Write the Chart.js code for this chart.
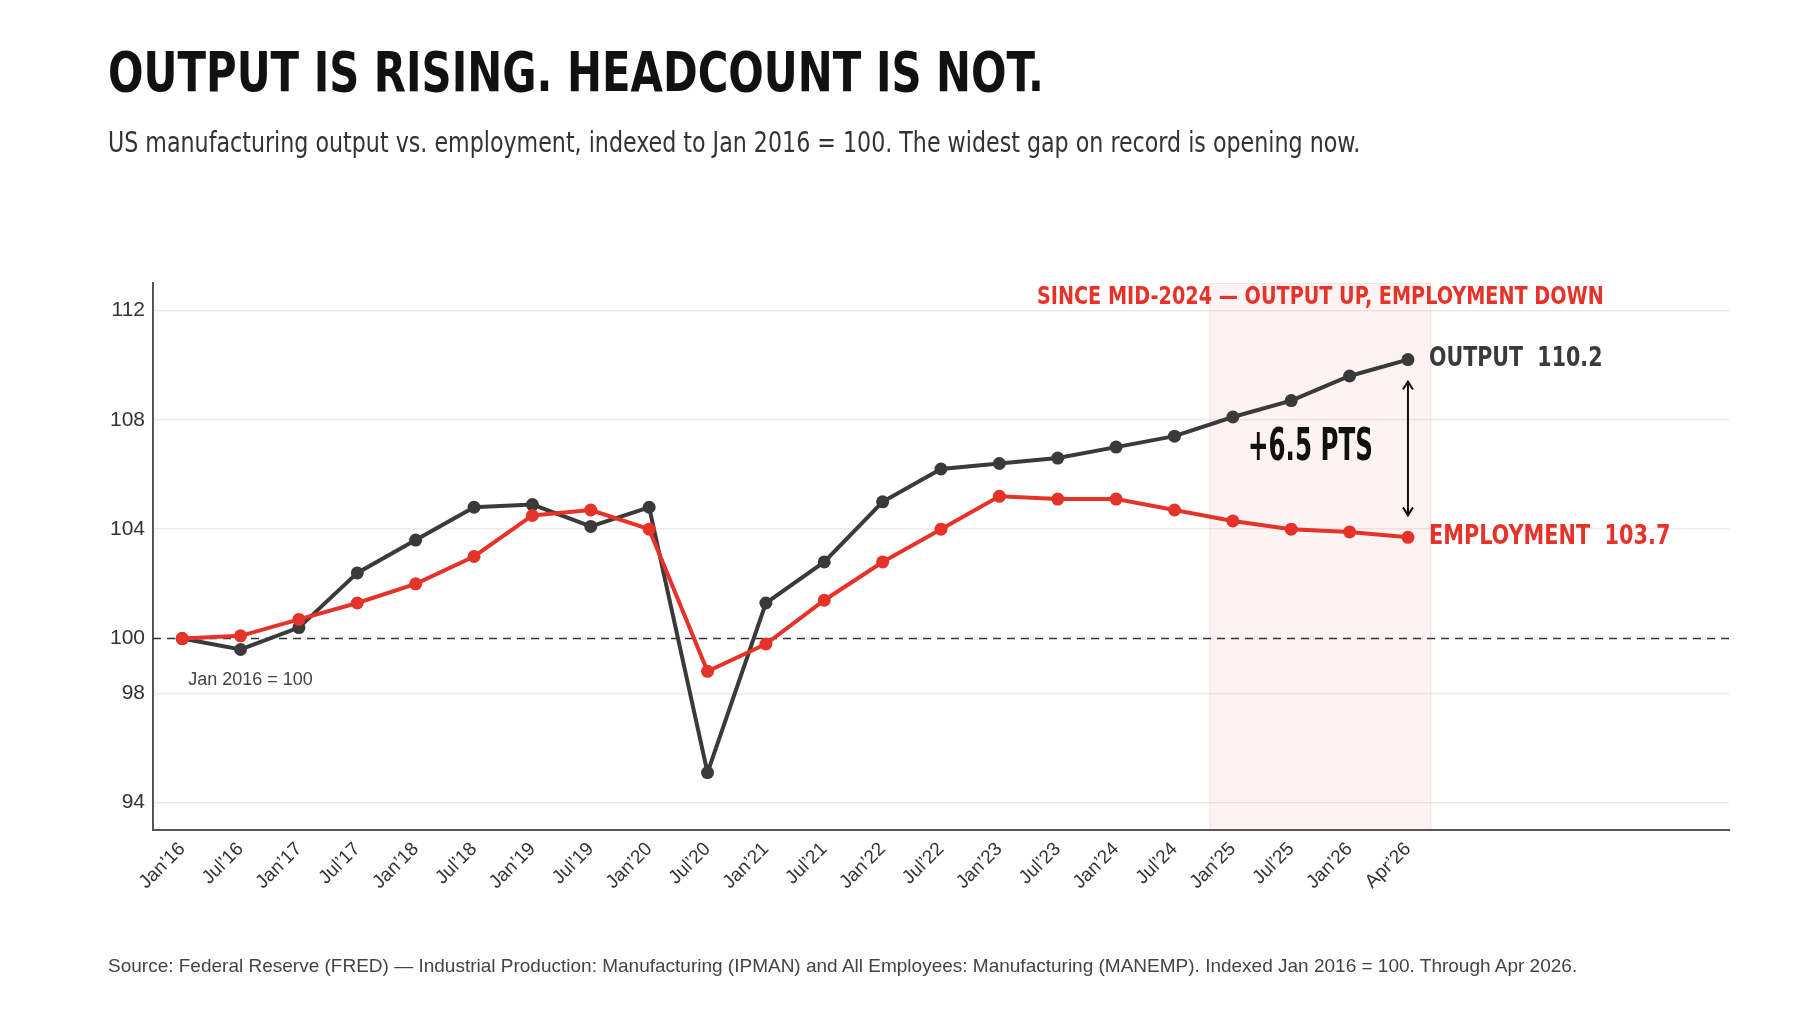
<!DOCTYPE html>
<html>
<head>
<meta charset="utf-8">
<title>Output is rising. Headcount is not.</title>
<script src="https://cdn.jsdelivr.net/npm/chart.js@4.4.1/dist/chart.umd.min.js"></script>
<style>
  html, body { margin: 0; padding: 0; background: #fff; }
  body { width: 1800px; height: 1012px; position: relative; overflow: hidden; }
  #chart { position: absolute; left: 0; top: 0; }
  .txt { position: absolute; left: 108px; margin: 0; white-space: nowrap; transform-origin: left top; }
  #title { top: 45px; font: bold 55px/1 "DejaVu Sans Condensed", "DejaVu Sans", sans-serif; color: #111; transform: scaleX(0.845); }
  #subtitle { top: 128px; font: 29px/1 "DejaVu Sans Condensed", "DejaVu Sans", sans-serif; color: #333; transform: scaleX(0.85); }
  #source { top: 956px; font: 19px/1 "Liberation Sans", sans-serif; color: #444; }
</style>
</head>
<body>
<canvas id="chart" width="1800" height="1012"></canvas>
<h1 class="txt" id="title">OUTPUT IS RISING. HEADCOUNT IS NOT.</h1>
<div class="txt" id="subtitle">US manufacturing output vs. employment, indexed to Jan 2016 = 100. The widest gap on record is opening now.</div>
<div class="txt" id="source">Source: Federal Reserve (FRED) — Industrial Production: Manufacturing (IPMAN) and All Employees: Manufacturing (MANEMP). Indexed Jan 2016 = 100. Through Apr 2026.</div>

<script>
// donnees
const categories = ["Jan’16", "Jul’16", "Jan’17", "Jul’17", "Jan’18", "Jul’18", "Jan’19", "Jul’19",
  "Jan’20", "Jul’20", "Jan’21", "Jul’21", "Jan’22", "Jul’22", "Jan’23", "Jul’23",
  "Jan’24", "Jul’24", "Jan’25", "Jul’25", "Jan’26", "Apr’26"];
const output = [100, 99.6, 100.4, 102.4, 103.6, 104.8, 104.9, 104.1, 104.8, 95.1, 101.3,
  102.8, 105.0, 106.2, 106.4, 106.6, 107.0, 107.4, 108.1, 108.7, 109.6, 110.2];
const employment = [100, 100.1, 100.7, 101.3, 102.0, 103.0, 104.5, 104.7, 104.0, 98.8, 99.8,
  101.4, 102.8, 104.0, 105.2, 105.1, 105.1, 104.7, 104.3, 104.0, 103.9, 103.7];
const yTicks = [94, 98, 100, 104, 108, 112];
const baseValue = 100;
const shadeFrom = 17.6;
const shadeTo = 21.4;
const shadeLabel = 'SINCE MID-2024 — OUTPUT UP, EMPLOYMENT DOWN';

const DARK = '#3a3a3a';
const RED = '#e5332a';
const COND = '"DejaVu Sans Condensed", "DejaVu Sans", sans-serif';

Chart.defaults.font.family = '"Liberation Sans", sans-serif';

const toPoints = arr => arr.map((v, i) => ({ x: i, y: v }));

// texte resserre horizontalement
function narrowText(ctx, text, x, y, sx) {
  ctx.save();
  ctx.translate(x, y);
  ctx.scale(sx, 1);
  ctx.fillText(text, 0, 0);
  ctx.restore();
}

const overlay = {
  id: 'overlay',
  beforeDatasetsDraw(chart) {
    const { ctx, chartArea: a, scales: { x, y } } = chart;
    const x0 = x.getPixelForValue(shadeFrom);
    const x1 = x.getPixelForValue(shadeTo);
    ctx.save();
    ctx.fillStyle = 'rgba(229, 51, 42, 0.06)';
    ctx.fillRect(x0, a.top, x1 - x0, a.bottom - a.top);
    ctx.strokeStyle = 'rgba(229, 51, 42, 0.10)';
    ctx.lineWidth = 1;
    ctx.strokeRect(x0 + 0.5, a.top + 0.5, x1 - x0 - 1, a.bottom - a.top);

    // ligne de base 100
    const yb = y.getPixelForValue(baseValue);
    ctx.setLineDash([8, 6]);
    ctx.strokeStyle = '#333';
    ctx.lineWidth = 1.6;
    ctx.beginPath();
    ctx.moveTo(a.left, yb);
    ctx.lineTo(a.right, yb);
    ctx.stroke();
    ctx.restore();
  },
  afterDatasetsDraw(chart) {
    const { ctx, chartArea: a, scales: { x, y } } = chart;
    const last = output.length - 1;
    const xl = x.getPixelForValue(last);
    const yo = y.getPixelForValue(output[last]);
    const ye = y.getPixelForValue(employment[last]);
    const yb = y.getPixelForValue(baseValue);

    ctx.save();
    ctx.textBaseline = 'middle';

    // titre de la zone
    ctx.fillStyle = RED;
    ctx.font = 'bold 24px ' + COND;
    ctx.textAlign = 'center';
    narrowText(ctx, shadeLabel, (x.getPixelForValue(shadeFrom) + x.getPixelForValue(shadeTo)) / 2, a.top + 15, 0.89);

    // note base
    ctx.fillStyle = '#444';
    ctx.font = '18px "Liberation Sans", sans-serif';
    ctx.textAlign = 'left';
    ctx.fillText('Jan 2016 = ' + baseValue, x.getPixelForValue(0) + 6, yb + 41);

    // etiquettes de fin
    ctx.font = 'bold 26px ' + COND;
    ctx.fillStyle = DARK;
    narrowText(ctx, 'OUTPUT  ' + output[last].toFixed(1), xl + 21, yo, 0.88);
    ctx.fillStyle = RED;
    narrowText(ctx, 'EMPLOYMENT  ' + employment[last].toFixed(1), xl + 21, ye, 0.89);

    // fleche double
    const top = yo + 22, bot = ye - 22;
    ctx.strokeStyle = '#111';
    ctx.lineWidth = 2;
    ctx.beginPath();
    ctx.moveTo(xl, top); ctx.lineTo(xl, bot);
    ctx.moveTo(xl - 5, top + 8); ctx.lineTo(xl, top); ctx.lineTo(xl + 5, top + 8);
    ctx.moveTo(xl - 5, bot - 8); ctx.lineTo(xl, bot); ctx.lineTo(xl + 5, bot - 8);
    ctx.stroke();

    // ecart
    const gap = (output[last] - employment[last]).toFixed(1);
    ctx.fillStyle = '#111';
    ctx.font = 'bold 44px ' + COND;
    ctx.textAlign = 'right';
    narrowText(ctx, '+' + gap + ' PTS', xl - 35, (yo + ye) / 2, 0.62);
    ctx.restore();
  }
};

new Chart(document.getElementById('chart'), {
  type: 'line',
  data: {
    datasets: [
      { label: 'Employment', data: toPoints(employment), borderColor: RED, backgroundColor: RED, order: 0 },
      { label: 'Output', data: toPoints(output), borderColor: DARK, backgroundColor: DARK, order: 1 }
    ]
  },
  options: {
    responsive: false,
    animation: false,
    devicePixelRatio: 1,
    events: [],
    layout: { padding: { left: 93, top: 283, right: 71, bottom: 72 } },
    elements: {
      line: { borderWidth: 4, tension: 0 },
      point: { radius: 6.5, borderWidth: 0, hoverRadius: 6.5 }
    },
    plugins: { legend: { display: false }, tooltip: { enabled: false } },
    scales: {
      x: {
        type: 'linear',
        min: -0.5,
        max: 26.5,
        afterBuildTicks: s => { s.ticks = categories.map((c, i) => ({ value: i })); },
        afterFit: s => { s.height = 110; },
        grid: { display: false, drawTicks: false },
        border: { display: true, color: '#555', width: 2 },
        ticks: {
          autoSkip: false, maxRotation: 45, minRotation: 45, padding: 8,
          color: '#333', font: { size: 19 },
          callback: v => categories[v] ?? ''
        }
      },
      y: {
        min: 93,
        max: 113,
        afterBuildTicks: s => { s.ticks = yTicks.map(v => ({ value: v })); },
        afterFit: s => { s.width = 60; },
        grid: {
          drawTicks: false,
          lineWidth: 1.5,
          color: c => (c.tick && c.tick.value === baseValue) ? 'rgba(0,0,0,0)' : '#ebebeb'
        },
        border: { display: true, color: '#555', width: 2 },
        ticks: { padding: 8, color: '#333', font: { size: 21 } }
      }
    }
  },
  plugins: [overlay]
});
</script>
</body>
</html>
